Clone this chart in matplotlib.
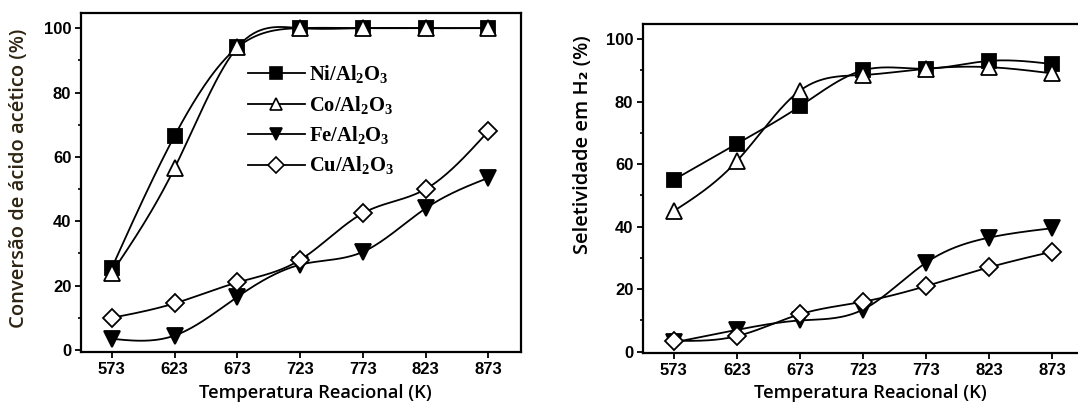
import numpy as np
import matplotlib
matplotlib.use("Agg")
import matplotlib.pyplot as plt
from matplotlib.ticker import MultipleLocator, FixedLocator
from matplotlib.lines import Line2D

temps = [573, 623, 673, 723, 773, 823, 873]
tick_labels = ["573", "623", "673", "723", "773", "823", "873"]
y_ticks = [0, 20, 40, 60, 80, 100]

conv_ni = [25.5, 66.5, 94.0, 100.0, 100.0, 100.0, 100.0]
conv_co = [24.0, 56.5, 94.0, 100.0, 100.0, 100.0, 100.0]
conv_fe = [3.5, 4.5, 16.5, 26.5, 30.5, 44.0, 53.5]
conv_cu = [10.0, 14.5, 21.0, 28.0, 42.5, 50.0, 68.0]

sel_ni = [55.0, 66.5, 78.5, 90.0, 90.5, 93.0, 92.0]
sel_co = [45.0, 61.0, 83.5, 88.5, 90.5, 91.0, 89.0]
sel_fe = [3.0, 7.0, 10.0, 13.5, 28.5, 36.5, 39.5]
sel_cu = [3.5, 5.0, 12.0, 16.0, 21.0, 27.0, 32.0]

labels = [r"Ni/Al$_\mathbf{2}$O$_\mathbf{3}$", r"Co/Al$_\mathbf{2}$O$_\mathbf{3}$",
          r"Fe/Al$_\mathbf{2}$O$_\mathbf{3}$", r"Cu/Al$_\mathbf{2}$O$_\mathbf{3}$"]

plt.rcParams['mathtext.fontset'] = 'custom'
plt.rcParams['mathtext.rm'] = 'Liberation Serif:bold'
plt.rcParams['mathtext.bf'] = 'Liberation Serif:bold'


def spline(x, y, n=200):
    x = np.asarray(x, float)
    y = np.asarray(y, float)
    m = len(x)
    h = np.diff(x)
    A = np.zeros((m, m))
    b = np.zeros(m)
    A[0, 0] = 1
    A[-1, -1] = 1
    for i in range(1, m - 1):
        A[i, i - 1] = h[i - 1]
        A[i, i] = 2 * (h[i - 1] + h[i])
        A[i, i + 1] = h[i]
        b[i] = 3 * ((y[i + 1] - y[i]) / h[i] - (y[i] - y[i - 1]) / h[i - 1])
    c = np.linalg.solve(A, b)
    xs = np.linspace(x[0], x[-1], n)
    ys = np.empty_like(xs)
    for k, xv in enumerate(xs):
        i = min(np.searchsorted(x, xv, side='right') - 1, m - 2)
        dx = xv - x[i]
        bb = (y[i + 1] - y[i]) / h[i] - h[i] * (2 * c[i] + c[i + 1]) / 3
        d = (c[i + 1] - c[i]) / (3 * h[i])
        ys[k] = y[i] + bb * dx + c[i] * dx ** 2 + d * dx ** 3
    return xs, ys


styles = [
    dict(marker='s', mfc='black', mec='black'),
    dict(marker='^', mfc='white', mec='black'),
    dict(marker='v', mfc='black', mec='black'),
    dict(marker='D', mfc='white', mec='black'),
]
msizes = [10, 11, 11, 9]

fig = plt.figure(figsize=(10.78, 4.09), dpi=100)
W, H = 1078, 409

ax1 = fig.add_axes([81 / W, 1 - 352 / H, (521 - 81) / W, (352 - 13) / H])
ax2 = fig.add_axes([643 / W, 1 - 353 / H, 442 / W, (353 - 24) / H])

tickfont = dict(family=['Liberation Sans', 'DejaVu Sans'], weight='bold', size=12)
labfont = dict(family=['Open Sans', 'DejaVu Sans'], weight='semibold', size=13.2)
ylabfont = dict(family=['Open Sans', 'DejaVu Sans'], weight='semibold', size=14.5)


def draw(ax, series, ylim):
    handles = []
    for ys, st, ms in zip(series, styles, msizes):
        sx, sy = spline(temps, ys)
        ax.plot(sx, sy, color='black', lw=1.3, zorder=2)
        ax.plot(temps, ys, ls='none', marker=st['marker'], mfc=st['mfc'],
                mec=st['mec'], mew=1.3, ms=ms, zorder=3)
        handles.append(Line2D([], [], color='black', lw=1.3, marker=st['marker'],
                              mfc=st['mfc'], mec=st['mec'], mew=1.2, ms=ms * 0.85))
    ax.set_xlim(548.5, 899)
    ax.set_ylim(*ylim)
    ax.xaxis.set_major_locator(FixedLocator(temps))
    ax.set_xticklabels(tick_labels, fontdict=tickfont)
    ax.set_yticks(y_ticks)
    ax.set_yticklabels([str(v) for v in y_ticks], fontdict=tickfont)
    ax.yaxis.set_minor_locator(MultipleLocator(10))
    ax.tick_params(which='major', direction='out', length=4, width=1.3, pad=3)
    ax.tick_params(which='minor', direction='out', length=2.5, width=1.2)
    ax.tick_params(axis='x', which='minor', bottom=False)
    for sp in ax.spines.values():
        sp.set_linewidth(1.6)
    ax.set_xlabel("Temperatura Reacional (K)", fontdict=labfont)
    return handles


handles = draw(ax1, [conv_ni, conv_co, conv_fe, conv_cu], (-0.6, 104.7))
ax1.set_ylabel("Conversão de ácido acético (%)", fontdict=ylabfont, color='#2e2412')
ax1.yaxis.set_label_coords(-0.118, 0.513)
ax1.xaxis.set_label_coords(0.532, -0.095)

draw(ax2, [sel_ni, sel_co, sel_fe, sel_cu], (-0.4, 104.8))
ax2.spines['right'].set_visible(False)
ax2.set_ylabel("Seletividade em H₂ (%)", fontdict=ylabfont)
ax2.yaxis.set_label_coords(-0.112, 0.632)
ax2.xaxis.set_label_coords(0.514, -0.093)

leg = ax1.legend(handles, labels, loc='upper left', bbox_to_anchor=(0.36, 0.875),
                 frameon=False, handlelength=2.8, handletextpad=0.2,
                 labelspacing=0.38, borderaxespad=0,
                 prop=dict(family='Liberation Serif', weight='bold', size=14.8))

fig.savefig("out.png", dpi=100)
